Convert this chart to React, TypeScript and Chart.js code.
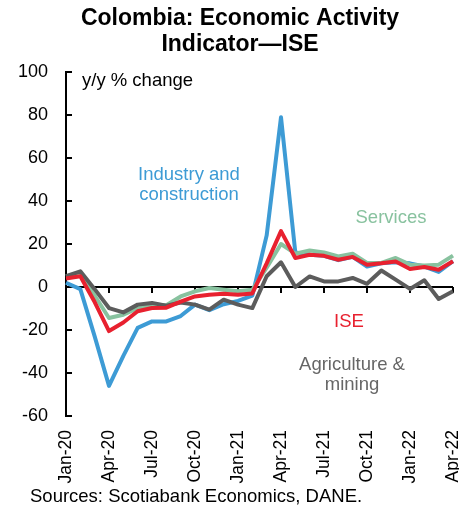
import React, { useEffect, useRef } from "react";
import { Chart, registerables } from "chart.js";

Chart.register(...registerables);

const months = [
  "Jan-20","Feb-20","Mar-20","Apr-20","May-20","Jun-20","Jul-20","Aug-20","Sep-20","Oct-20","Nov-20","Dec-20",
  "Jan-21","Feb-21","Mar-21","Apr-21","May-21","Jun-21","Jul-21","Aug-21","Sep-21","Oct-21","Nov-21","Dec-21",
  "Jan-22","Feb-22","Mar-22","Apr-22",
];

const ise = [4, 5, -7, -20.5, -16.5, -11.3, -9.8, -9.6, -6.8, -4.4, -3.6, -3.1, -3.6, -3, 11, 26, 13.5, 15, 14.5, 12.7, 14, 10.4, 11, 11.9, 8.4, 9.3, 8, 12];
const agriculture = [5, 7.3, -1, -9.8, -11.8, -8.2, -7.4, -8.7, -7.2, -8.2, -10.5, -5.9, -8.2, -9.8, 5, 11.5, 0, 4.9, 2.6, 2.6, 4.2, 1.5, 7.7, 3.4, -0.9, 3.1, -5.6, -2];
const services = [5, 6, -4, -14.4, -12.9, -9.8, -8.2, -8.5, -4.4, -2, -0.5, -1.3, -2, -1.3, 9, 20, 15.5, 17, 16.1, 14.2, 15.5, 11.2, 11.2, 13.5, 10.4, 10, 10.4, 14.6];
const industry = [2, -1, -23, -46, -32, -19, -16, -16, -13.5, -8.2, -10.8, -8, -6.5, -4, 24, 79, 16, 15, 14.5, 12.5, 14, 9.5, 11, 11.5, 11, 9.5, 7, 12];

const yTicks = [100, 80, 60, 40, 20, 0, -20, -40, -60];
const titleLines = ["Colombia: Economic Activity", "Indicator\u2014ISE"];
const sourceText = "Sources: Scotiabank Economics, DANE.";
const unitText = "y/y % change";

const BLUE = "#3d9bd5";
const RED = "#e8212f";
const GREEN = "#88c29f";
const GRAY = "#5c5c5c";
const FONT = "'Liberation Sans', Arial, sans-serif";

const decorPlugin = {
  id: "decor",
  beforeDatasetsDraw(chart: any) {
    const { ctx, chartArea, scales } = chart;
    const x = scales.x;
    const y = scales.y;
    const y0 = y.getPixelForValue(0);
    ctx.save();
    ctx.strokeStyle = "#000";
    ctx.lineWidth = 2;
    ctx.beginPath();
    ctx.moveTo(chartArea.left, y0);
    ctx.lineTo(chartArea.right, y0);
    ctx.stroke();
    for (let i = 0; i < months.length; i += 3) {
      const px = x.getPixelForValue(i);
      ctx.beginPath();
      ctx.moveTo(px, y0);
      ctx.lineTo(px, y0 + 6);
      ctx.stroke();
    }
    for (const v of yTicks) {
      const py = y.getPixelForValue(v);
      ctx.beginPath();
      ctx.moveTo(chartArea.left, py);
      ctx.lineTo(chartArea.left + 6, py);
      ctx.stroke();
    }
    ctx.restore();
  },
  afterDraw(chart: any) {
    const { ctx } = chart;
    ctx.save();
    ctx.textBaseline = "middle";
    ctx.textAlign = "center";
    ctx.fillStyle = "#000";
    ctx.font = `bold 23px ${FONT}`;
    ctx.fillText(titleLines[0], 240, 19);
    ctx.fillText(titleLines[1], 240, 45);

    ctx.font = `18.5px ${FONT}`;
    ctx.textAlign = "left";
    ctx.fillText(unitText, 82, 81);
    ctx.fillText(sourceText, 30, 497);

    ctx.textAlign = "center";
    ctx.fillStyle = BLUE;
    ctx.fillText("Industry and", 189, 175);
    ctx.fillText("construction", 189, 195);
    ctx.fillStyle = GREEN;
    ctx.fillText("Services", 391, 218);
    ctx.fillStyle = RED;
    ctx.fillText("ISE", 349, 322);
    ctx.fillStyle = "#666";
    ctx.fillText("Agriculture &", 352, 365);
    ctx.fillText("mining", 352, 385);
    ctx.restore();
  },
};

export default function App() {
  const ref = useRef<HTMLCanvasElement>(null);
  useEffect(() => {
    if (!ref.current) return;
    const mk = (data: number[], color: string) => ({
      data,
      borderColor: color,
      backgroundColor: color,
      borderWidth: 4,
      borderJoinStyle: "round" as const,
      pointRadius: 0,
      tension: 0,
      fill: false,
    });
    const chart = new Chart(ref.current, {
      type: "line",
      data: {
        labels: months,
        datasets: [
          { label: "ISE", ...mk(ise, RED) },
          { label: "Agriculture & mining", ...mk(agriculture, GRAY) },
          { label: "Services", ...mk(services, GREEN) },
          { label: "Industry and construction", ...mk(industry, BLUE) },
        ],
      },
      options: {
        responsive: false,
        animation: false,
        layout: { padding: { top: 72, right: 6, bottom: 0, left: 0 } },
        plugins: { legend: { display: false }, tooltip: { enabled: false }, title: { display: false } },
        scales: {
          x: {
            type: "category",
            offset: false,
            grid: { display: false, drawTicks: false },
            border: { display: false },
            ticks: {
              autoSkip: false,
              maxRotation: 90,
              minRotation: 90,
              padding: 14,
              color: "#000",
              font: { family: FONT, size: 17.5 },
              callback: (_v: any, i: number) => (i % 3 === 0 ? months[i] : ""),
            },
            afterFit: (s: any) => {
              s.height = 92;
              s.paddingLeft = 0;
              s.paddingRight = 0;
            },
          },
          y: {
            min: -60,
            max: 100,
            grid: { display: false, drawTicks: false },
            border: { display: true, color: "#000", width: 2 },
            ticks: {
              stepSize: 20,
              padding: 18,
              color: "#000",
              font: { family: FONT, size: 18 },
            },
            afterFit: (s: any) => {
              s.width = 66;
            },
          },
        },
      },
      plugins: [decorPlugin],
    });
    return () => chart.destroy();
  }, []);
  return (
    <div style={{ position: "absolute", left: 0, top: 0, width: 459, height: 508, background: "#fff" }}>
      <canvas ref={ref} width={459} height={508} />
    </div>
  );
}
